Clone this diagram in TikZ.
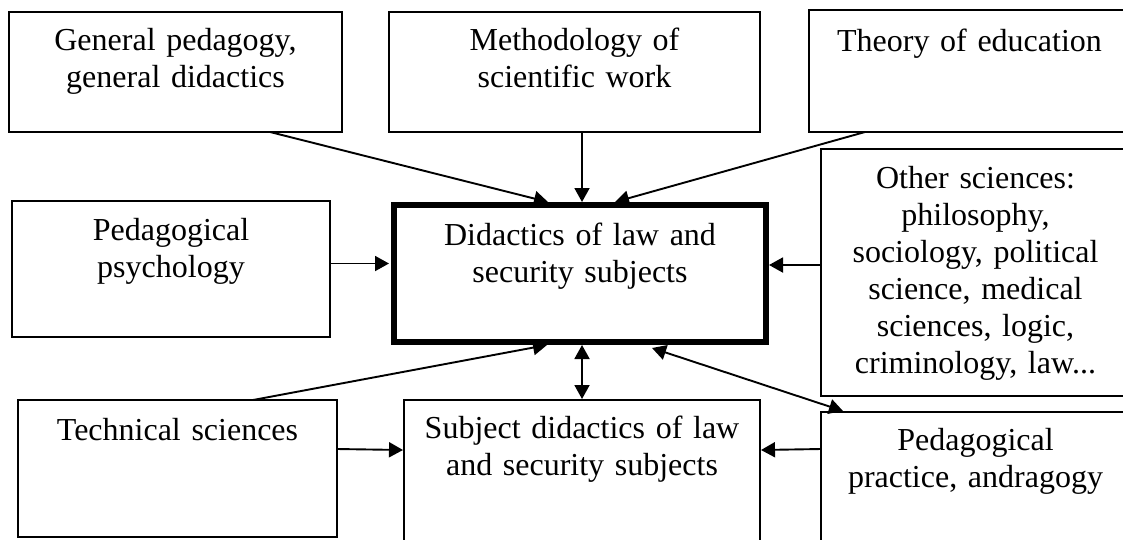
\documentclass[tikz,border=0pt]{standalone}
\usepackage{fontspec}
\setmainfont[WordSpace=0.75]{Liberation Serif}
\usetikzlibrary{arrows.meta}
\begin{document}
\begin{tikzpicture}[x=1pt,y=-1pt,
  box/.style={draw,line width=1.9pt,inner sep=0pt,outer sep=0pt},
  mainbox/.style={draw,line width=5.5pt,inner sep=0pt,outer sep=0pt},
  lbl/.style={anchor=base,align=center,text width=340pt,inner sep=0pt,
    font=\fontsize{32}{37}\selectfont},
  tip/.tip={Triangle[length=14pt,width=15pt]},
  arr/.style={-tip,line width=1.9pt},
  dbl/.style={tip-tip,line width=1.9pt}]
\useasboundingbox (0,0) rectangle (1123,539);
\clip (0,0) rectangle (1123,539);
% boxes
\node[box,minimum width=333pt,minimum height=120pt] (gp) at (175.5,72) {};
\node[box,minimum width=371pt,minimum height=120pt] (meth) at (574.5,72) {};
\node[box,minimum width=321pt,minimum height=122pt] (theo) at (969.5,71) {};
\node[box,minimum width=318pt,minimum height=136pt] (psy) at (171,269) {};
\node[mainbox,minimum width=372pt,minimum height=137pt] (ctr) at (580,273.5) {};
\node[box,minimum width=309pt,minimum height=247pt] (oth) at (975.5,272.5) {};
\node[box,minimum width=319pt,minimum height=137pt] (tech) at (177.5,468.5) {};
\node[box,minimum width=356pt,minimum height=170pt] (subj) at (582,485) {};
\node[box,minimum width=309pt,minimum height=158pt] (prac) at (975.5,491) {};
% texts
\node[lbl] (gpt) at ([yshift=-38pt]gp.north) {General pedagogy,\\general didactics};
\node[lbl] (metht) at ([yshift=-38pt]meth.north) {Methodology of\\scientific work};
\node[lbl] (theot) at ([yshift=-41pt]theo.north) {Theory of education};
\node[lbl] (psyt) at ([yshift=-39pt]psy.north) {Pedagogical\\psychology};
\node[lbl] (ctrt) at ([yshift=-40pt]ctr.north) {Didactics of law and\\security subjects};
\node[lbl] (otht) at ([yshift=-39pt]oth.north) {Other sciences:\\philosophy,\\sociology, political\\science, medical\\sciences, logic,\\criminology, law...};
\node[lbl] (techt) at ([yshift=-40pt]tech.north) {Technical sciences};
\node[lbl] (subjt) at ([yshift=-38pt]subj.north) {Subject didactics of law\\and security subjects};
\node[lbl] (pract) at ([yshift=-38pt]prac.north) {Pedagogical\\practice, andragogy};
% connectors
\draw[arr] ([xshift=94.5pt]gp.south) -- ([xshift=-32pt,yshift=3pt]ctr.north);
\draw[arr] ([xshift=7.5pt]meth.south) -- ([xshift=2pt,yshift=3pt]ctr.north);
\draw[arr] ([xshift=-104.5pt]theo.south) -- ([xshift=35pt,yshift=3pt]ctr.north);
\draw[arr] ([yshift=5.5pt]psy.east) -- ([xshift=-5pt,yshift=10pt]ctr.west);
\draw[arr] ([yshift=7.5pt]oth.west) -- ([xshift=3pt,yshift=8.5pt]ctr.east);
\draw[arr] ([xshift=75.5pt]tech.north) -- ([xshift=-33pt,yshift=-3pt]ctr.south);
\draw[arr] ([yshift=19.5pt]tech.east) -- ([xshift=-1pt,yshift=35pt]subj.west);
\draw[dbl] ([xshift=2pt,yshift=-3pt]ctr.south) -- ([yshift=1pt]subj.north);
\draw[dbl] ([xshift=72pt,yshift=-6pt]ctr.south) -- ([xshift=-132.5pt,yshift=1pt]prac.north);
\draw[arr] ([yshift=42pt]prac.west) -- ([xshift=1pt,yshift=35pt]subj.east);
\end{tikzpicture}
\end{document}
